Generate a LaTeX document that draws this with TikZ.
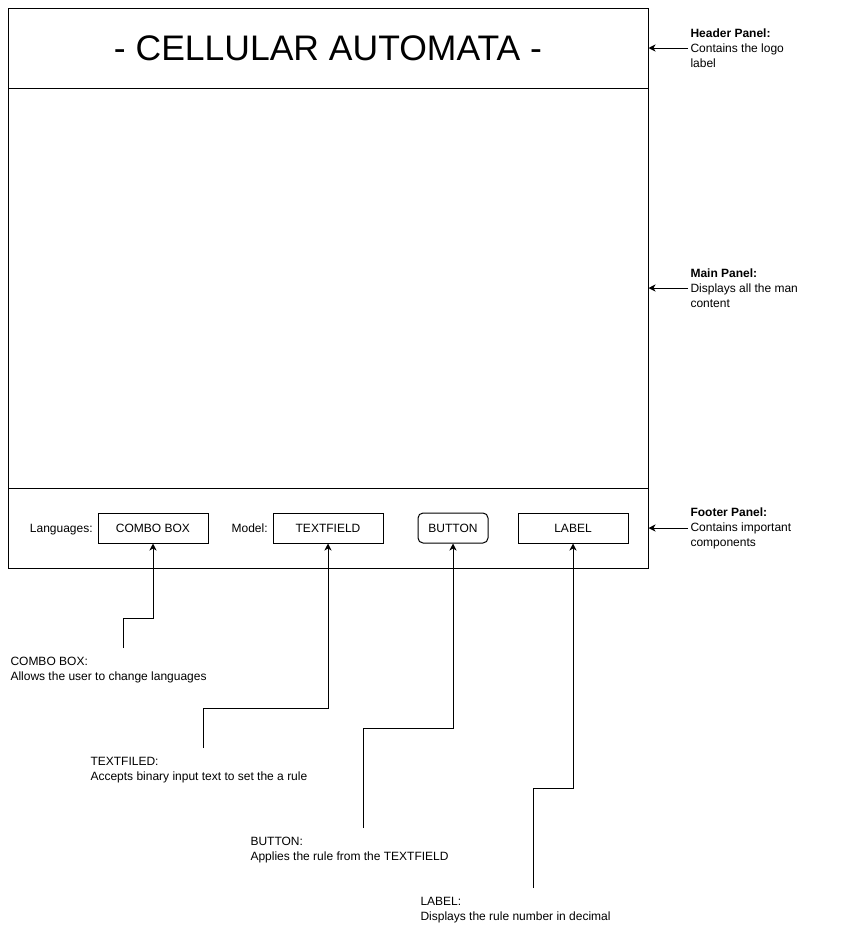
\documentclass[tikz,border=0pt]{standalone}
\usepackage{fontspec}
\setmainfont{Liberation Sans}
\usetikzlibrary{shapes,arrows.meta,positioning}
\tikzstyle{panel} = [rectangle, draw, minimum width=640pt, inner sep=0pt]
\tikzstyle{caption} = [text height=11pt, text depth=2.5pt]
\tikzstyle{widget} = [rectangle, draw, caption, minimum width=110pt,
    minimum height=30pt, inner sep=0pt, text centered]
\tikzstyle{note} = [align=left, inner sep=2pt]
\tikzstyle{line} = [draw, -{Stealth[length=7pt, width=7pt, inset=2pt]}]

\begin{document}
\begin{tikzpicture}[x=1pt, y=-1pt, line width=1pt,
    font=\fontsize{12}{15}\selectfont]
 \useasboundingbox (0,0) rectangle (847,937);
 % Place nodes
   \node[panel, minimum height=80pt] (header) at (328,48) {};
   \node[panel, minimum height=400pt] (main) at (328,288) {};
   \node[panel, minimum height=80pt] (footer) at (328,528) {};
   \node[font=\fontsize{35.5}{40}\selectfont] (title) at (header) {- CELLULAR AUTOMATA -};

   \node[widget] (combo) at (153,528) {COMBO BOX};
   \node[caption, left=1pt of combo] (lang) {Languages:};
   \node[widget] (field) at (328,528) {TEXTFIELD};
   \node[caption, left=1pt of field] (model) {Model:};
   \node[widget, minimum width=70pt, rounded corners=5pt] (button) at (453,528) {BUTTON};
   \node[widget] (label) at (573,528) {LABEL};

   \node[note, anchor=west] (hnote) at (688,48) {\textbf{Header Panel:}\\Contains the logo\\label};
   \node[note, anchor=west] (mnote) at (688,288) {\textbf{Main Panel:}\\Displays all the man\\content};
   \node[note, anchor=west] (fnote) at (688,528) {\textbf{Footer Panel:}\\Contains important\\components};

   \node[note, anchor=west] (cbnote) at (8,670) {COMBO BOX:\\Allows the user to change languages};
   \node[note, anchor=west] (tfnote) at (88,770) {TEXTFILED:\\Accepts binary input text to set the a rule};
   \node[note, anchor=west] (btnote) at (248,850) {BUTTON:\\Applies the rule from the TEXTFIELD};
   \node[note, anchor=west] (lbnote) at (418,910) {LABEL:\\Displays the rule number in decimal};
   \coordinate (cbtop) at (123,648);
   \coordinate (tftop) at (203,748);
   \coordinate (bttop) at (363,828);
   \coordinate (lbtop) at (533,888);

    % Draw edges
   \path [line] (hnote.west) -- (header.east); \path [line] (mnote.west)
   -- (main.east); \path [line] (fnote.west) -- (footer.east);
   \path [line] (cbtop) -- ++(0,-30) -| (combo.south); \path [line]
   (tftop) -- ++(0,-40) -| (field.south); \path [line] (bttop) --
   ++(0,-100) -| (button.south); \path [line] (lbtop) -- ++(0,-100)
   -| (label.south);
\end{tikzpicture}
\end{document}
